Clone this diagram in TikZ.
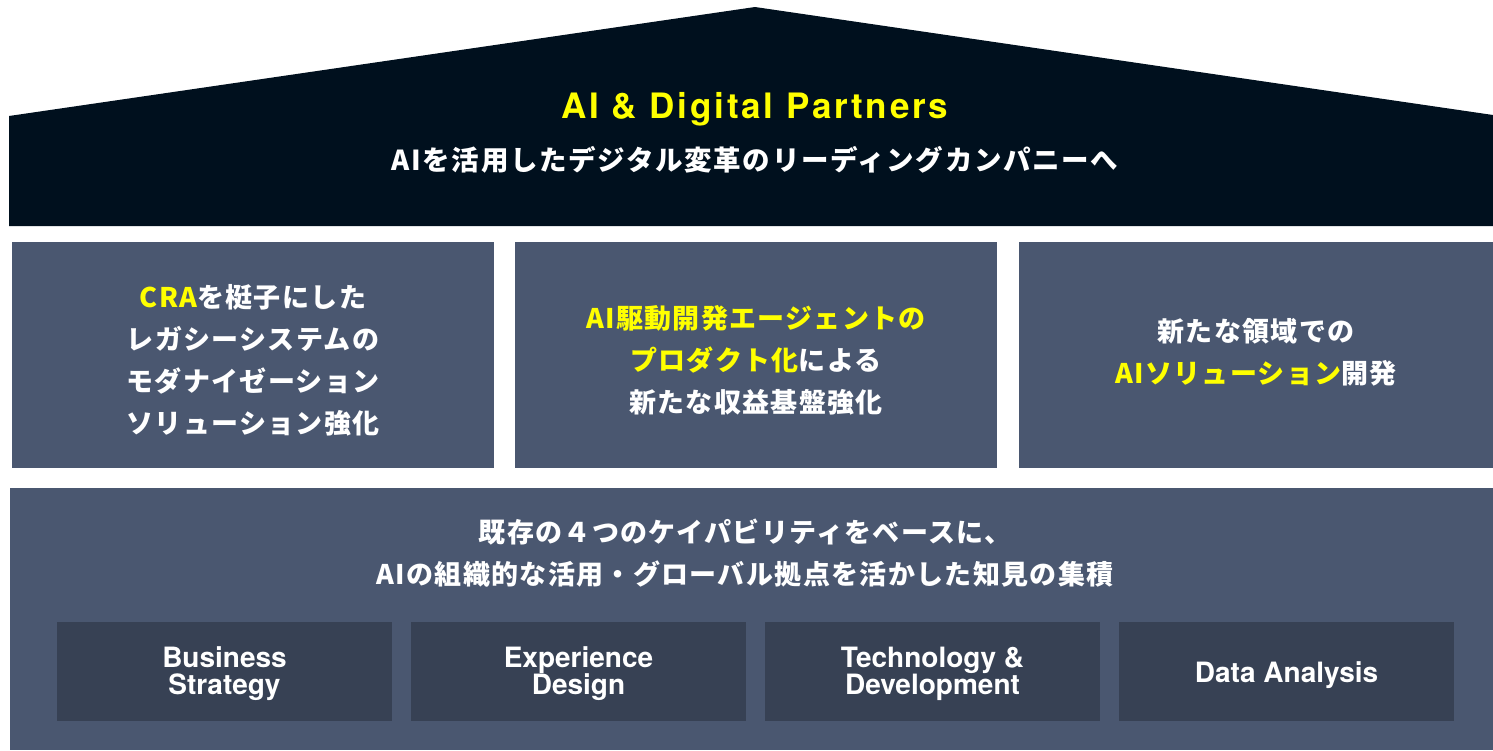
\documentclass[tikz,border=0pt]{standalone}
\usepackage{fontspec}
\setmainfont{TeX Gyre Heros}
\newfontfamily\jpfont[LetterSpace=5]{Noto Sans CJK JP}
\usepackage{xcolor}
\definecolor{roofnavy}{HTML}{00101E}
\definecolor{pillargray}{HTML}{4A5770}
\definecolor{skillgray}{HTML}{374154}
\definecolor{hiyellow}{HTML}{FFFF00}

\begin{document}
\begin{tikzpicture}[x=1pt,y=-1pt,
        pillar/.style={fill=pillargray,draw=none},
        skillbox/.style={fill=skillgray,draw=none},
        jptext/.style={text=white,align=center,inner sep=0pt,font=\jpfont\bfseries\fontsize{27}{42}\selectfont},
        skilltext/.style={text=white,align=center,inner sep=0pt,font=\bfseries\fontsize{28}{27}\selectfont}]
        \useasboundingbox (0,0) rectangle (1493,750);

        % Roof
        \fill[roofnavy] (9,116) -- (755,7) -- (1493,115) -- (1493,226) -- (9,226) -- cycle;
        \node[anchor=base,text=hiyellow,inner sep=0pt,font=\bfseries\fontsize{35}{35}\selectfont\addfontfeature{LetterSpace=8}] (title) at (755,118) {AI \& Digital Partners};
        \node[jptext,anchor=base,font=\jpfont\bfseries\fontsize{27.5}{42}\selectfont\addfontfeature{LetterSpace=6}] (vision) at (755,170) {AIを活用したデジタル変革のリーディングカンパニーへ};

        % Pillars
        \fill[pillar] (12,242) rectangle (494,468);
        \fill[pillar] (515,242) rectangle (997,468);
        \fill[pillar] (1019,242) rectangle (1493,468);
        \node[jptext] (cra) at (253,360) {\textcolor{hiyellow}{CRA}を梃子にした\\レガシーシステムの\\モダナイゼーション\\ソリューション強化};
        \node[jptext] (agent) at (756,360) {\textcolor{hiyellow}{AI駆動開発エージェントの}\\\textcolor{hiyellow}{プロダクト化}による\\新たな収益基盤強化};
        \node[jptext] (newai) at (1256,352) {新たな領域での\\\textcolor{hiyellow}{AIソリューション}開発};

        % Foundation
        \fill[pillar] (10,488) rectangle (1493,750);
        \node[jptext,font=\jpfont\bfseries\fontsize{27}{42}\selectfont] (base) at (745,553) {既存の４つのケイパビリティをベースに、\\AIの組織的な活用・グローバル拠点を活かした知見の集積};

        % Capabilities
        \fill[skillbox] (57,622) rectangle (392,721);
        \fill[skillbox] (411,622) rectangle (746,721);
        \fill[skillbox] (765,622) rectangle (1100,721);
        \fill[skillbox] (1119,622) rectangle (1454,721);
        \node[skilltext] (biz) at (224.5,674) {Business\\Strategy};
        \node[skilltext] (exp) at (578.5,674) {Experience\\Design};
        \node[skilltext] (tech) at (932.5,674) {Technology \&\\Development};
        \node[skilltext,anchor=base] (data) at (1286.5,682) {Data Analysis};
    \end{tikzpicture}
\end{document}
